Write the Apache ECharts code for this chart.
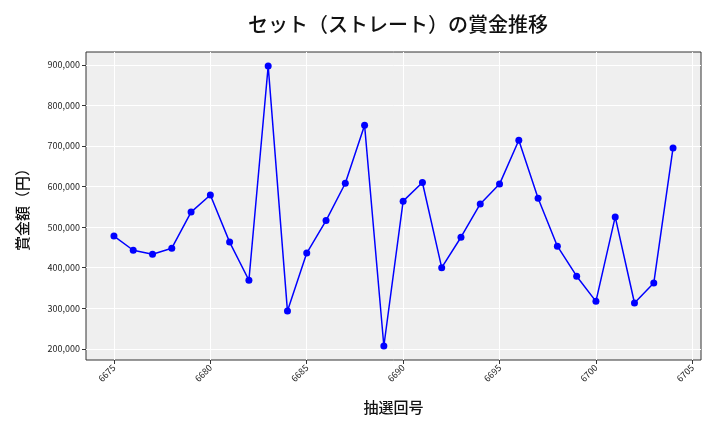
<!DOCTYPE html>
<html><head><meta charset="utf-8">
<script src="https://cdn.jsdelivr.net/npm/echarts@6/dist/echarts.min.js"></script>
<style>html,body{margin:0;padding:0;background:#fff}#c{width:720px;height:432px}</style>
</head><body><div id="c"></div>
<script>
const draws = [6675,6676,6677,6678,6679,6680,6681,6682,6683,6684,6685,6686,6687,6688,6689,6690,6691,6692,6693,6694,6695,6696,6697,6698,6699,6700,6701,6702,6703,6704];
const prizes = [478000,443000,433000,448000,537000,579000,463000,369000,897000,293000,436000,516000,608000,751000,207000,564000,610000,400000,475000,557000,606000,714000,571000,453000,379000,317000,525000,313000,362000,695000];
const xTicks = [6675,6680,6685,6690,6695,6700,6705];
const yTicks = [200000,300000,400000,500000,600000,700000,800000,900000];
const FONT = '"Noto Sans CJK JP", "DejaVu Sans", sans-serif';
const chart = echarts.init(document.getElementById('c'), null, {renderer:'canvas'});
chart.setOption({
  animation:false,
  title:{text:'セット（ストレート）の賞金推移', left:393, top:9, textAlign:'center',
    textStyle:{fontFamily:FONT, fontSize:20, fontWeight:500, color:'#111'}},
  grid:{left:86, right:19, top:52, bottom:72, show:true, backgroundColor:'#efefef', borderColor:'#333', borderWidth:1},
  xAxis:{type:'value', min:6673.55, max:6705.45,
    name:'抽選回号', nameLocation:'middle', nameGap:40,
    nameTextStyle:{fontFamily:FONT, fontSize:15, fontWeight:500, color:'#111'},
    axisLine:{show:false},
    axisTick:{show:true, length:4, lineStyle:{color:'#333'}, customValues:xTicks},
    axisLabel:{rotate:45, fontFamily:FONT, fontSize:9, color:'#222', margin:6, customValues:xTicks,
      formatter:v=>String(v)},
    splitLine:{show:true, lineStyle:{color:'#fff', width:1}}},
  yAxis:{type:'value', min:172500, max:931500,
    name:'賞金額（円）', nameLocation:'middle', nameGap:56, nameRotate:90,
    nameTextStyle:{fontFamily:FONT, fontSize:15, fontWeight:500, color:'#111'},
    axisLine:{show:false},
    axisTick:{show:true, length:4, lineStyle:{color:'#333'}, customValues:yTicks},
    axisLabel:{fontFamily:FONT, fontSize:9, color:'#222', margin:6, customValues:yTicks,
      formatter:v=>v.toLocaleString('en-US')},
    splitLine:{show:true, lineStyle:{color:'#fff', width:1}}},
  series:[{type:'line', data:draws.map((d,i)=>[d,prizes[i]]),
    symbol:'circle', symbolSize:7, color:'#0000ff',
    lineStyle:{color:'#0000ff', width:1.5}, itemStyle:{color:'#0000ff'}}]
});
</script></body></html>
